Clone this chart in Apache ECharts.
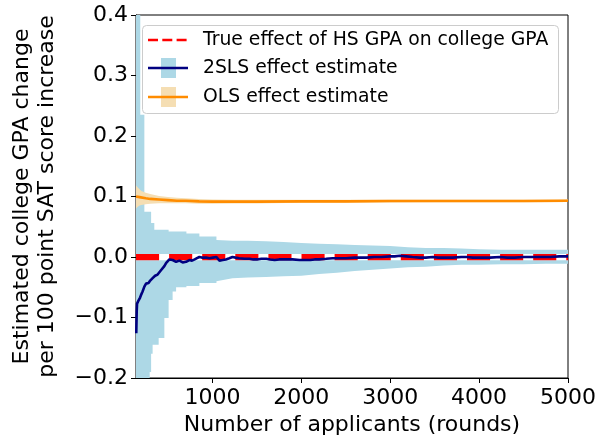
<!DOCTYPE html>
<html>
<head>
<meta charset="utf-8">
<script src="https://cdn.jsdelivr.net/npm/echarts@6/dist/echarts.min.js"></script>
<style>
html,body{margin:0;padding:0;background:#fff;}
#chart{width:608px;height:444px;}
</style>
</head>
<body>
<div id="chart"></div>
<script>
// ---- data ----
var xMin = 140, xMax = 5000;
var xTicks = [1000, 2000, 3000, 4000, 5000];
var yTicks = [-0.2, -0.1, 0.0, 0.1, 0.2, 0.3, 0.4];
var trueEffect = 0;

var tslsRounds = [143,148,152,158,165,177,186,196,205,214,224,234,243,253,262,271,281,290,300,309,318,327,337,346,355,365,383,402,421,440,459,478,496,515,533,552,571,591,610,628,646,665,684,703,722,741,770,800,826,853,880,900,930,966,1005,1045,1079,1115,1150,1190,1225,1260,1300,1360,1417,1460,1500,1550,1608,1650,1700,1750,1789,1850,1900,1980,2040,2100,2150,2200,2280,2352,2420,2500,2600,2670,2735,2820,2900,3000,3050,3107,3180,3250,3330,3400,3479,3540,3600,3700,3800,3862,3930,4000,4120,4234,4320,4400,4500,4600,4700,4800,4900,5000];
var tslsMean = [-0.126,-0.09,-0.077,-0.076,-0.073,-0.071,-0.067,-0.063,-0.061,-0.057,-0.055,-0.049,-0.047,-0.044,-0.045,-0.042,-0.043,-0.041,-0.039,-0.038,-0.037,-0.035,-0.034,-0.033,-0.031,-0.031,-0.029,-0.026,-0.022,-0.019,-0.015,-0.010,-0.007,-0.004,-0.003,-0.005,-0.004,-0.008,-0.005,-0.006,-0.004,-0.009,-0.006,-0.008,-0.006,-0.005,-0.006,-0.004,-0.002,0.000,-0.001,0.001,-0.001,-0.002,-0.001,0.000,-0.006,-0.005,-0.004,-0.002,0.000,-0.001,-0.002,-0.003,-0.003,-0.004,-0.004,-0.003,-0.003,-0.004,-0.005,-0.004,-0.004,-0.004,-0.004,-0.005,-0.005,-0.005,-0.004,-0.004,-0.003,-0.002,-0.002,-0.002,-0.001,-0.001,-0.001,0.000,0.000,0.001,0.001,0.002,0.001,0.000,-0.001,-0.001,0.000,-0.001,-0.001,-0.001,0.000,0.000,-0.001,-0.001,-0.001,0.000,-0.001,-0.001,0.000,0.000,0.000,0.000,0.001,0.001];

var bandRounds = [140,188,234,294,310,327,346,395,459,507,552,591,707,853,1045,1225,1400,1600,1800,2000,2200,2400,2600,2800,3000,3200,3400,3600,3800,4000,4250,4500,4750,5000];
var tslsUpper = [0.5,0.235,0.075,0.075,0.056,0.056,0.045,0.045,0.045,0.042,0.042,0.042,0.039,0.034,0.028,0.027,0.027,0.026,0.025,0.023,0.022,0.021,0.020,0.019,0.018,0.016,0.015,0.015,0.014,0.013,0.012,0.012,0.012,0.012];
var tslsLower = [-0.3,-0.3,-0.3,-0.19,-0.16,-0.145,-0.145,-0.134,-0.101,-0.071,-0.057,-0.05,-0.048,-0.043,-0.04,-0.035,-0.034,-0.033,-0.032,-0.031,-0.028,-0.026,-0.023,-0.021,-0.019,-0.017,-0.016,-0.014,-0.013,-0.013,-0.012,-0.012,-0.011,-0.011];

var olsRounds = [140,160,180,200,250,300,400,500,600,700,850,1000,1250,1500,2000,2500,3000,3500,4000,4500,5000];
var olsMean  = [0.100,0.099,0.099,0.098,0.097,0.096,0.095,0.094,0.093,0.093,0.092,0.0915,0.0915,0.0915,0.092,0.092,0.0925,0.0925,0.0925,0.0925,0.093];
var olsUpper = [0.118,0.115,0.112,0.109,0.106,0.104,0.101,0.099,0.098,0.097,0.096,0.095,0.0945,0.0945,0.0945,0.0945,0.0948,0.0947,0.0946,0.0945,0.095];
var olsLower = [0.080,0.083,0.085,0.086,0.087,0.088,0.089,0.089,0.089,0.089,0.088,0.088,0.0885,0.0885,0.0895,0.0895,0.0902,0.0903,0.0904,0.0905,0.091];

var legendLabels = ['True effect of HS GPA on college GPA', '2SLS effect estimate', 'OLS effect estimate'];

// ---- build ----
function pairs(xs, ys){ return xs.map(function(x,i){ return [x, ys[i]]; }); }
function rows(xs, lo, up){ return xs.map(function(x,i){ return [x, lo[i], up[i]]; }); }
var FONT = 'DejaVu Sans';
var yMin = yTicks[0], yMax = yTicks[yTicks.length-1];
function clampY(v){ return Math.max(yMin, Math.min(yMax, v)); }

// band polygon drawn through the axis scales (api.coord); early part is a staircase
function makeBand(xs, lo, up, color, stepUntil){
  var d = rows(xs, lo, up);
  return {
    type:'custom', data:d, clip:true, silent:true,
    encode:{x:0, y:[1,2]},
    renderItem:function(params, api){
      if (params.dataIndex !== 0) return null;
      var upPts = [], loPts = [];
      for (var i = 0; i < d.length; i++){
        var x = d[i][0];
        if (i > 0 && x <= stepUntil){
          upPts.push(api.coord([x, clampY(d[i-1][2])]));
          loPts.push(api.coord([x, clampY(d[i-1][1])]));
        }
        upPts.push(api.coord([x, clampY(d[i][2])]));
        loPts.push(api.coord([x, clampY(d[i][1])]));
      }
      return {type:'polygon', shape:{points:upPts.concat(loPts.reverse())}, style:{fill:color}, silent:true};
    }
  };
}

var chart = echarts.init(document.getElementById('chart'), null, {renderer:'canvas'});
var option = {
  animation:false,
  backgroundColor:'#fff',
  grid:{left:136, top:15, right:40, bottom:66, show:true, borderColor:'#000', borderWidth:1, backgroundColor:'transparent'},
  xAxis:{
    type:'value', min:xMin, max:xMax,
    axisLine:{show:true, onZero:false, lineStyle:{color:'#000', width:1}},
    axisTick:{show:true, length:5, customValues:xTicks, lineStyle:{color:'#000', width:1}},
    axisLabel:{customValues:xTicks, margin:9, fontSize:22, color:'#000', fontFamily:FONT,
      formatter:function(v){ return String(Math.round(v)); }},
    splitLine:{show:false},
    name:'Number of applicants (rounds)', nameLocation:'middle', nameGap:34,
    nameTextStyle:{fontSize:22, color:'#000', fontFamily:FONT}
  },
  yAxis:{
    type:'value', min:yMin, max:yMax, interval:0.1,
    axisLine:{show:true, onZero:false, lineStyle:{color:'#000', width:1}},
    axisTick:{show:true, length:5, lineStyle:{color:'#000', width:1}},
    axisLabel:{margin:8, fontSize:22, color:'#000', fontFamily:FONT,
      formatter:function(v){ var s=Math.abs(v).toFixed(1); return (v < -1e-9 ? '\u2212' : '') + s; }},
    splitLine:{show:false},
    name:'Estimated college GPA change\nper 100 point SAT score increase',
    nameLocation:'middle', nameRotate:90, nameGap:76,
    nameTextStyle:{fontSize:22, color:'#000', fontFamily:FONT, lineHeight:25}
  },
  series:[
    makeBand(bandRounds, tslsLower, tslsUpper, '#add8e6', 1100),
    makeBand(olsRounds, olsLower, olsUpper, '#f5deb3', 0),
    {type:'line', data:[[xMin, trueEffect],[xMax, trueEffect]], symbol:'none',
     lineStyle:{color:'#ffffff', width:6.25}, silent:true},
    {type:'line', data:[[xMin, trueEffect],[xMax, trueEffect]], symbol:'none',
     lineStyle:{color:'#ff0000', width:6.25, type:[23.1,10], cap:'butt'}, silent:true},
    {type:'line', data:pairs(tslsRounds, tslsMean), symbol:'none',
     lineStyle:{color:'#000080', width:2.6}, silent:true},
    {type:'line', data:pairs(olsRounds, olsMean), symbol:'none',
     lineStyle:{color:'#ff8c00', width:2.6}, silent:true}
  ],
  graphic:[
    {type:'rect', z:100, shape:{x:142.5, y:25.5, width:416, height:88, r:4},
     style:{fill:'rgba(255,255,255,0.8)', stroke:'#cccccc', lineWidth:1}},
    {type:'line', z:101, shape:{x1:148, y1:40, x2:188, y2:40},
     style:{stroke:'#ff0000', lineWidth:2.7, lineDash:[10,4.3]}},
    {type:'rect', z:101, shape:{x:161, y:58, width:15, height:20}, style:{fill:'#add8e6'}},
    {type:'line', z:102, shape:{x1:148, y1:68, x2:188, y2:68}, style:{stroke:'#000080', lineWidth:2.7}},
    {type:'rect', z:101, shape:{x:161, y:87, width:15, height:20}, style:{fill:'#f5deb3'}},
    {type:'line', z:102, shape:{x1:148, y1:97, x2:188, y2:97}, style:{stroke:'#ff8c00', lineWidth:2.7}},
    {type:'text', z:102, x:203, y:40, style:{text:legendLabels[0], font:'18.8px "DejaVu Sans"', fill:'#000', verticalAlign:'middle'}},
    {type:'text', z:102, x:203, y:68, style:{text:legendLabels[1], font:'18.8px "DejaVu Sans"', fill:'#000', verticalAlign:'middle'}},
    {type:'text', z:102, x:203, y:97, style:{text:legendLabels[2], font:'18.8px "DejaVu Sans"', fill:'#000', verticalAlign:'middle'}}
  ]
};
chart.setOption(option);
</script>
</body>
</html>
